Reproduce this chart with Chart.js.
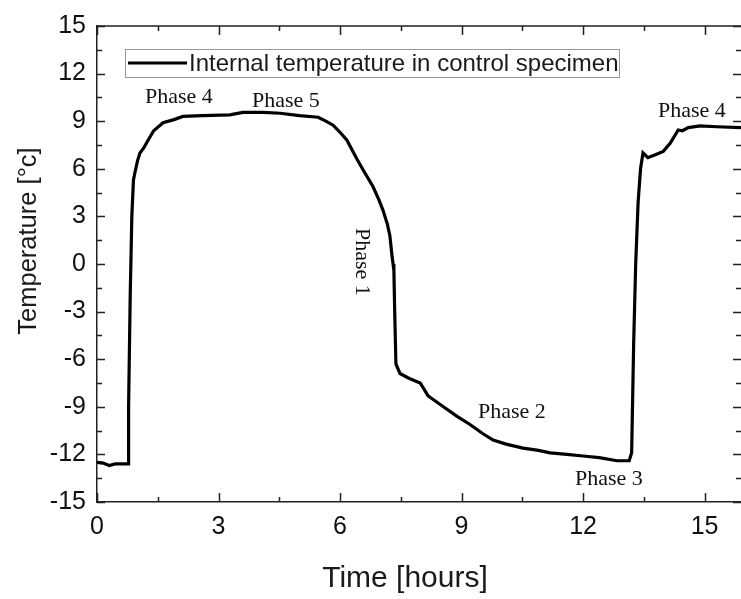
<!DOCTYPE html>
<html>
<head>
<meta charset="utf-8">
<script src="https://cdn.jsdelivr.net/npm/chart.js@4/dist/chart.umd.min.js"></script>
<style>
  html, body { margin: 0; padding: 0; background: #fff; }
  canvas { display: block; }
</style>
</head>
<body>
<canvas id="tempChart" width="741" height="599"></canvas>
<script>
// 時間 [h]
const timeHours = [
  0.00, 0.15, 0.30, 0.45, 0.60, 0.77, 0.78, 0.82, 0.86, 0.90,
  0.94, 1.00, 1.06, 1.15, 1.26, 1.40, 1.63, 1.90, 2.12, 2.60,
  3.28, 3.60, 4.10, 4.52, 5.00, 5.46, 5.65, 5.83, 6.00, 6.17,
  6.42, 6.60, 6.81, 6.95, 7.06, 7.17, 7.23, 7.28, 7.31, 7.33,
  7.35, 7.38, 7.48, 7.70, 7.98, 8.10, 8.17, 8.50, 8.89, 9.20,
  9.53, 9.78, 10.10, 10.52, 10.90, 11.19, 11.60, 12.00, 12.40, 12.84,
  13.14, 13.20, 13.25, 13.30, 13.36, 13.42, 13.48, 13.60, 13.80, 13.98,
  14.15, 14.35, 14.45, 14.60, 14.89, 15.30, 15.90
];
// 内部温度 [°C]
const tempC = [
  -12.5, -12.55, -12.7, -12.6, -12.6, -12.6, -9.0, -2.0, 3.0, 5.3,
  5.8, 6.5, 7.0, 7.3, 7.8, 8.4, 8.9, 9.1, 9.3, 9.35,
  9.4, 9.55, 9.55, 9.5, 9.35, 9.25, 9.0, 8.75, 8.3, 7.8,
  6.6, 5.8, 4.9, 4.1, 3.4, 2.5, 1.8, 0.6, 0.0, -0.4,
  -3.0, -6.3, -6.9, -7.2, -7.5, -8.0, -8.3, -8.9, -9.6, -10.1,
  -10.7, -11.1, -11.35, -11.6, -11.75, -11.9, -12.0, -12.1, -12.2, -12.4,
  -12.4, -11.9, -5.0, 0.0, 3.9, 6.0, 7.0, 6.7, 6.9, 7.1,
  7.6, 8.45, 8.4, 8.6, 8.7, 8.65, 8.6
];

const xTicks = [0, 3, 6, 9, 12, 15];
const yTicks = [-15, -12, -9, -6, -3, 0, 3, 6, 9, 12, 15];

const legendLabel = 'Internal temperature in control specimen';
const phaseLabels = [
  { text: 'Phase 4', x: 145, y: 103 },
  { text: 'Phase 5', x: 252, y: 107 },
  { text: 'Phase 2', x: 478, y: 418 },
  { text: 'Phase 3', x: 575, y: 485 },
  { text: 'Phase 4', x: 658, y: 117 }
];

const points = timeHours.map((t, i) => ({ x: t, y: tempC[i] }));

// 内向きの目盛り・枠・注記を描くプラグイン
const framePlugin = {
  id: 'framePlugin',
  afterDraw(chart) {
    const c = chart.ctx;
    const a = chart.chartArea;
    const xs = chart.scales.x;
    const ys = chart.scales.y;
    c.save();
    c.strokeStyle = '#222';
    c.lineWidth = 1.5;

    // 上枠
    c.beginPath();
    c.moveTo(a.left, a.top);
    c.lineTo(a.right, a.top);
    c.stroke();

    function minors(arr) {
      const out = [];
      for (let i = 0; i < arr.length; i++) {
        const step = i + 1 < arr.length ? arr[i + 1] - arr[i] : arr[i] - arr[i - 1];
        out.push(arr[i] + step / 2);
      }
      return out;
    }

    // x目盛り
    const drawX = (vals, len) => {
      vals.forEach(v => {
        if (v < xs.min || v > xs.max) return;
        const px = Math.round(xs.getPixelForValue(v)) + 0.5;
        c.beginPath();
        c.moveTo(px, a.bottom); c.lineTo(px, a.bottom - len);
        c.moveTo(px, a.top); c.lineTo(px, a.top + len);
        c.stroke();
      });
    };
    drawX(xTicks, 9);
    drawX(minors(xTicks), 5);

    // y目盛り
    const drawY = (vals, len) => {
      vals.forEach(v => {
        if (v < ys.min || v > ys.max) return;
        const py = Math.round(ys.getPixelForValue(v)) + 0.5;
        c.beginPath();
        c.moveTo(a.left, py); c.lineTo(a.left + len, py);
        c.moveTo(a.right, py); c.lineTo(a.right - len, py);
        c.stroke();
      });
    };
    drawY(yTicks, 8);
    drawY(minors(yTicks), 5);

    // 凡例
    c.strokeStyle = '#999';
    c.lineWidth = 1;
    c.strokeRect(125.5, 49.5, 494, 28);
    c.strokeStyle = '#000';
    c.lineWidth = 3;
    c.beginPath();
    c.moveTo(128, 63); c.lineTo(187, 63);
    c.stroke();
    c.fillStyle = '#1a1a1a';
    c.font = '24px "Liberation Sans", Arial, sans-serif';
    c.textBaseline = 'alphabetic';
    c.textAlign = 'left';
    c.fillText(legendLabel, 189, 71);

    // フェーズ注記
    c.fillStyle = '#111';
    c.font = '22px "Liberation Serif", "Times New Roman", serif';
    phaseLabels.forEach(p => c.fillText(p.text, p.x, p.y));
    c.save();
    c.translate(356, 228);
    c.rotate(Math.PI / 2);
    c.fillText('Phase 1', 0, 0);
    c.restore();

    // 軸タイトル
    c.fillStyle = '#1a1a1a';
    c.font = '30px "Liberation Sans", Arial, sans-serif';
    c.textAlign = 'center';
    c.fillText('Time [hours]', 405, 587);
    c.save();
    c.translate(36, 241);
    c.rotate(-Math.PI / 2);
    c.font = '25.5px "Liberation Sans", Arial, sans-serif';
    c.fillText('Temperature [°c]', 0, 0);
    c.restore();

    c.restore();
  }
};

const tickFont = { family: '"Liberation Sans", Arial, sans-serif', size: 25 };

new Chart(document.getElementById('tempChart'), {
  type: 'line',
  data: {
    datasets: [{
      label: legendLabel,
      data: points,
      borderColor: '#000',
      borderWidth: 3.2,
      pointRadius: 0,
      tension: 0,
      fill: false
    }]
  },
  options: {
    responsive: false,
    animation: false,
    layout: { padding: { top: 22, right: 0, left: 0, bottom: 0 } },
    plugins: {
      legend: { display: false },
      tooltip: { enabled: false }
    },
    scales: {
      x: {
        type: 'linear',
        min: 0,
        max: 15.9,
        afterBuildTicks: s => { s.ticks = xTicks.map(v => ({ value: v })); },
        afterFit: s => { s.height = 97; },
        grid: { display: false, drawTicks: false },
        border: { display: true, color: '#222', width: 1.5 },
        ticks: {
          font: tickFont,
          color: '#111',
          padding: 10,
          maxRotation: 0,
          autoSkip: false,
          callback: v => String(v)
        }
      },
      y: {
        type: 'linear',
        min: -15,
        max: 15,
        afterBuildTicks: s => { s.ticks = yTicks.map(v => ({ value: v })); },
        afterFit: s => { s.width = 97; },
        grid: { display: false, drawTicks: false },
        border: { display: true, color: '#222', width: 1.5 },
        ticks: {
          font: tickFont,
          color: '#111',
          padding: 11,
          autoSkip: false,
          callback: v => String(v)
        }
      }
    }
  },
  plugins: [framePlugin]
});
</script>
</body>
</html>
